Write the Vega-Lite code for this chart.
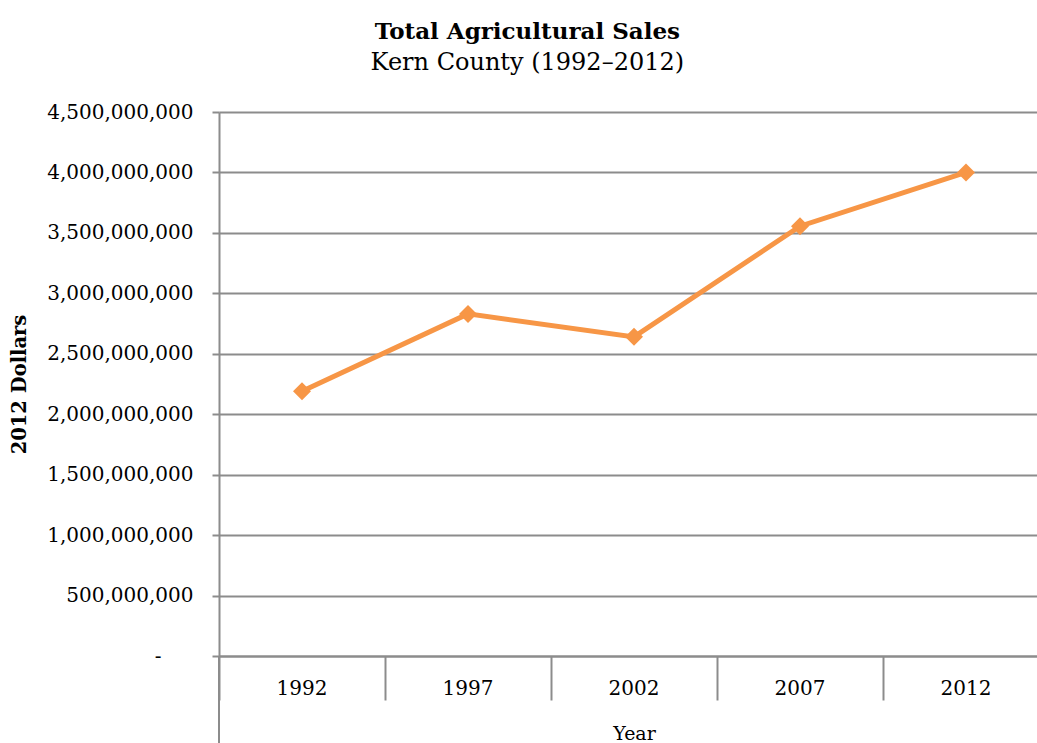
{
  "$schema": "https://vega.github.io/schema/vega-lite/v6.json",
  "width": 830,
  "height": 544,
  "autosize": {"type": "none"},
  "padding": {"left": 219, "top": 112, "right": 0, "bottom": 87},
  "background": "white",
  "title": {
    "text": "Total Agricultural Sales",
    "subtitle": "Kern County (1992–2012)",
    "font": "DejaVu Serif",
    "fontSize": 23,
    "fontWeight": "bold",
    "color": "#000000",
    "subtitleFont": "DejaVu Serif",
    "subtitleFontSize": 24,
    "subtitleColor": "#000000",
    "subtitlePadding": 7,
    "anchor": "middle",
    "frame": "bounds",
    "offset": 27,
    "dx": -2
  },
  "config": {"view": {"stroke": null}, "font": "DejaVu Serif"},
  "datasets": {
    "sales": [
      {"Year": "1992", "Sales": 2190000000},
      {"Year": "1997", "Sales": 2830000000},
      {"Year": "2002", "Sales": 2640000000},
      {"Year": "2007", "Sales": 3555000000},
      {"Year": "2012", "Sales": 4000000000}
    ],
    "axisext": [
      {"Year": "1992", "lo": 0, "hi": -720000000}
    ]
  },
  "layer": [
    {
      "data": {"name": "sales"},
      "mark": {"type": "line", "color": "#F79646", "strokeWidth": 5, "point": {"shape": "diamond", "size": 324, "filled": true, "color": "#F79646"}},
      "encoding": {
        "x": {
          "field": "Year",
          "type": "ordinal",
          "scale": {"type": "band", "paddingInner": 0, "paddingOuter": 0},
          "axis": {
            "title": "Year",
            "titleFont": "DejaVu Serif",
            "titleFontSize": 19,
            "titleFontWeight": "normal",
            "titleColor": "#000000",
            "titlePadding": 23,
            "labelAngle": 0,
            "labelFont": "DejaVu Serif",
            "labelFontSize": 20,
            "labelColor": "#000000",
            "bandPosition": 0,
            "labelOffset": 0,
            "labelPadding": -22,
            "tickSize": 44,
            "tickColor": "#8c8c8c",
            "tickWidth": 2,
            "domainColor": "#8c8c8c",
            "domainWidth": 2,
            "grid": false
          }
        },
        "y": {
          "field": "Sales",
          "type": "quantitative",
          "scale": {"domain": [0, 4500000000], "nice": false},
          "axis": {
            "title": "2012 Dollars",
            "titleFont": "DejaVu Serif",
            "titleFontSize": 19.5,
            "titleFontWeight": "bold",
            "titleColor": "#000000",
            "titlePadding": 17,
            "values": [0, 500000000, 1000000000, 1500000000, 2000000000, 2500000000, 3000000000, 3500000000, 4000000000, 4500000000],
            "labelExpr": "datum.value == 0 ? '-' : format(datum.value, ',')",
            "labelFont": "DejaVu Serif",
            "labelFontSize": 20,
            "labelColor": "#000000",
            "labelPadding": {"condition": {"test": "datum.value == 0", "value": 51}, "value": 19},
            "labelOverlap": false,
            "labelFlush": false,
            "tickSize": 7,
            "tickColor": "#8c8c8c",
            "tickWidth": 2,
            "domainColor": "#8c8c8c",
            "domainWidth": 2,
            "grid": true,
            "gridColor": "#8c8c8c",
            "gridWidth": 2
          }
        }
      }
    },
    {
      "data": {"name": "axisext"},
      "mark": {"type": "rule", "color": "#8c8c8c", "strokeWidth": 2},
      "encoding": {
        "x": {"field": "Year", "type": "ordinal", "bandPosition": 0},
        "y": {"field": "lo", "type": "quantitative"},
        "y2": {"field": "hi"}
      }
    }
  ]
}
